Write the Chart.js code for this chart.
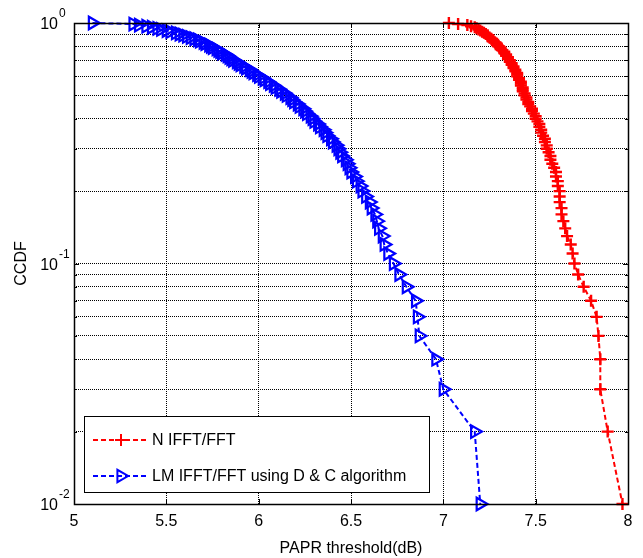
<!DOCTYPE html>
<html>
<head>
<meta charset="utf-8">
<script src="https://cdn.jsdelivr.net/npm/chart.js@4/dist/chart.umd.min.js"></script>
<style>
  html, body { margin: 0; padding: 0; background: #fff; }
  #wrap { width: 643px; height: 558px; }
</style>
</head>
<body>
<div id="wrap"><canvas id="myChart" width="643" height="558"></canvas></div>
<script>
// CCDF levels (both curves are sampled at the same probabilities)
let ccdf = [1.00, 0.99, 0.98, 0.97, 0.96, 0.95, 0.94, 0.93, 0.92, 0.91,
            0.90, 0.89, 0.88, 0.87, 0.86, 0.85, 0.84, 0.83, 0.82, 0.81,
            0.80, 0.79, 0.78, 0.77, 0.76, 0.75, 0.74, 0.73, 0.72, 0.71,
            0.70, 0.69, 0.68, 0.67, 0.66, 0.65, 0.64, 0.63, 0.62, 0.61,
            0.60, 0.59, 0.58, 0.57, 0.56, 0.55, 0.54, 0.53, 0.52, 0.51,
            0.50, 0.49, 0.48, 0.47, 0.46, 0.45, 0.44, 0.43, 0.42, 0.41,
            0.40, 0.39, 0.38, 0.37, 0.36, 0.35, 0.34, 0.33, 0.32, 0.31,
            0.30, 0.29, 0.28, 0.27, 0.26, 0.25, 0.24, 0.23, 0.22, 0.21,
            0.20, 0.19, 0.18, 0.17, 0.16, 0.15, 0.14, 0.13, 0.12, 0.11,
            0.10, 0.09, 0.08, 0.07, 0.06, 0.05, 0.04, 0.03, 0.02, 0.01];

// PAPR threshold (dB) for N IFFT/FFT
let paprN = [7.03, 7.08, 7.13, 7.15, 7.17, 7.18, 7.19, 7.20, 7.21, 7.22,
             7.23, 7.24, 7.24, 7.25, 7.26, 7.27, 7.27, 7.28, 7.29, 7.29,
             7.30, 7.31, 7.31, 7.32, 7.33, 7.33, 7.34, 7.34, 7.35, 7.35,
             7.36, 7.36, 7.37, 7.37, 7.38, 7.38, 7.39, 7.39, 7.40, 7.40,
             7.40, 7.41, 7.41, 7.42, 7.42, 7.42, 7.43, 7.43, 7.43, 7.44,
             7.44, 7.45, 7.45, 7.46, 7.46, 7.47, 7.48, 7.48, 7.49, 7.50,
             7.50, 7.51, 7.52, 7.52, 7.53, 7.53, 7.54, 7.55, 7.55, 7.56,
             7.56, 7.57, 7.58, 7.58, 7.59, 7.60, 7.61, 7.61, 7.62, 7.62,
             7.63, 7.63, 7.63, 7.64, 7.64, 7.65, 7.66, 7.67, 7.69, 7.70,
             7.71, 7.73, 7.76, 7.80, 7.83, 7.84, 7.85, 7.85, 7.89, 7.97];

// PAPR threshold (dB) for LM IFFT/FFT using D & C
let paprLM = [5.10, 5.32, 5.35, 5.39, 5.42, 5.45, 5.47, 5.50, 5.52, 5.55,
              5.57, 5.59, 5.61, 5.63, 5.65, 5.67, 5.68, 5.70, 5.71, 5.73,
              5.74, 5.75, 5.77, 5.78, 5.79, 5.80, 5.82, 5.83, 5.84, 5.85,
              5.86, 5.88, 5.89, 5.90, 5.92, 5.93, 5.95, 5.96, 5.97, 5.99,
              6.00, 6.02, 6.03, 6.05, 6.06, 6.08, 6.09, 6.11, 6.12, 6.14,
              6.15, 6.17, 6.18, 6.19, 6.21, 6.22, 6.24, 6.25, 6.26, 6.28,
              6.29, 6.30, 6.32, 6.33, 6.35, 6.36, 6.37, 6.39, 6.40, 6.42,
              6.43, 6.44, 6.45, 6.47, 6.48, 6.49, 6.50, 6.52, 6.53, 6.55,
              6.56, 6.58, 6.60, 6.61, 6.63, 6.64, 6.65, 6.67, 6.68, 6.70,
              6.73, 6.76, 6.80, 6.85, 6.86, 6.87, 6.96, 7.00, 7.17, 7.20];

let seriesNames = ['N IFFT/FFT', 'LM IFFT/FFT using D & C algorithm'];
let xTickValues = [5, 5.5, 6, 6.5, 7, 7.5, 8];
let xTickLabels = ['5', '5.5', '6', '6.5', '7', '7.5', '8'];
let yMajor = [1, 0.1, 0.01];
let yMajorExp = ['0', '-1', '-2'];
let yDecades = [0.01, 0.1];

const FONT = '"Liberation Sans", Arial, sans-serif';

function toPoints(xs, ys) {
    let pts = [];
    for (let i = 0; i < xs.length; i++) pts.push({ x: xs[i], y: ys[i] });
    return pts;
}

let yTicks = [];
yDecades.forEach(function (d) {
    for (let m = 1; m <= 9; m++) yTicks.push(+(d * m).toPrecision(3));
});
yTicks.push(1);

let redStyle = {
    borderColor: '#ff0000', backgroundColor: 'rgba(0,0,0,0)',
    pointStyle: 'cross', rotation: 0, radius: 6, borderWidth: 2.4
};
let blueStyle = {
    borderColor: '#0000ff', backgroundColor: 'rgba(0,0,0,0)',
    pointStyle: 'triangle', rotation: 90, radius: 7.2, borderWidth: 2.2
};

// matlab-ish frame, ticks, y labels and legend
const matlabBits = {
    id: 'matlabBits',
    afterDraw(chart) {
        const ctx = chart.ctx;
        const a = chart.chartArea;
        const xs = chart.scales.x, ys = chart.scales.y;
        ctx.save();

        // inward ticks
        ctx.strokeStyle = '#000';
        ctx.lineWidth = 1;
        ctx.setLineDash([]);
        ctx.beginPath();
        xTickValues.forEach(function (v) {
            let px = Math.round(xs.getPixelForValue(v)) + 0.5;
            ctx.moveTo(px, a.bottom); ctx.lineTo(px, a.bottom - 5);
            ctx.moveTo(px, a.top); ctx.lineTo(px, a.top + 5);
        });
        yTicks.forEach(function (v) {
            let py = Math.round(ys.getPixelForValue(v)) + 0.5;
            let len = yMajor.indexOf(v) >= 0 ? 5 : 3;
            ctx.moveTo(a.left, py); ctx.lineTo(a.left + len, py);
            ctx.moveTo(a.right, py); ctx.lineTo(a.right - len, py);
        });
        ctx.stroke();

        // box
        ctx.lineWidth = 1.5;
        ctx.strokeRect(Math.round(a.left) + 0.5, Math.round(a.top) + 0.5,
                       Math.round(a.right - a.left), Math.round(a.bottom - a.top));

        // y tick labels 10^n
        ctx.fillStyle = '#000';
        yMajor.forEach(function (v, i) {
            let py = ys.getPixelForValue(v);
            ctx.font = '16px ' + FONT;
            ctx.textAlign = 'right';
            ctx.textBaseline = 'middle';
            ctx.fillText('10', 58, py + 2);
            ctx.font = '12px ' + FONT;
            ctx.textAlign = 'left';
            ctx.fillText(yMajorExp[i], 59, py - 9);
        });

        // legend
        const lx = 84, ly = 416, lw = 345, lh = 76;
        ctx.fillStyle = '#fff';
        ctx.fillRect(lx, ly, lw, lh);
        ctx.strokeStyle = '#000';
        ctx.lineWidth = 1;
        ctx.strokeRect(lx + 0.5, ly + 0.5, lw, lh);
        [redStyle, blueStyle].forEach(function (st, i) {
            let ry = ly + 24 + i * 36;
            ctx.strokeStyle = st.borderColor;
            ctx.lineWidth = 2;
            ctx.setLineDash([5, 3]);
            ctx.beginPath();
            ctx.moveTo(lx + 9, ry); ctx.lineTo(lx + 64, ry);
            ctx.stroke();
            ctx.setLineDash([]);
            ctx.fillStyle = st.backgroundColor;
            Chart.helpers.drawPoint(ctx, {
                pointStyle: st.pointStyle, rotation: st.rotation,
                radius: st.radius, borderWidth: st.borderWidth
            }, lx + 37, ry);
            ctx.fillStyle = '#000';
            ctx.font = '16px ' + FONT;
            ctx.textAlign = 'left';
            ctx.textBaseline = 'middle';
            ctx.fillText(seriesNames[i], lx + 68, ry + 1);
        });
        ctx.restore();
    }
};

let ctx1 = document.getElementById('myChart').getContext('2d');

let chart1 = new Chart(ctx1, {
    type: 'line',
    data: {
        datasets: [
            {
                label: seriesNames[0],
                data: toPoints(paprN, ccdf),
                borderColor: redStyle.borderColor,
                backgroundColor: redStyle.backgroundColor,
                borderWidth: 2,
                borderDash: [5, 3],
                pointStyle: redStyle.pointStyle,
                pointRadius: redStyle.radius,
                pointBorderWidth: redStyle.borderWidth,
                pointBorderColor: redStyle.borderColor,
                pointBackgroundColor: redStyle.backgroundColor,
                fill: false,
                tension: 0,
                clip: false
            },
            {
                label: seriesNames[1],
                data: toPoints(paprLM, ccdf),
                borderColor: blueStyle.borderColor,
                backgroundColor: blueStyle.backgroundColor,
                borderWidth: 2,
                borderDash: [5, 3],
                pointStyle: blueStyle.pointStyle,
                pointRotation: blueStyle.rotation,
                pointRadius: blueStyle.radius,
                pointBorderWidth: blueStyle.borderWidth,
                pointBorderColor: blueStyle.borderColor,
                pointBackgroundColor: blueStyle.backgroundColor,
                fill: false,
                tension: 0,
                clip: false
            }
        ]
    },
    options: {
        responsive: false,
        animation: false,
        layout: { padding: { left: 0, top: 23, right: 15, bottom: 0 } },
        plugins: {
            legend: { display: false },
            tooltip: { enabled: false },
            title: { display: false }
        },
        scales: {
            x: {
                type: 'linear',
                min: 5,
                max: 8,
                afterBuildTicks: function (scale) {
                    scale.ticks = xTickValues.map(function (v) { return { value: v }; });
                },
                afterFit: function (scale) { scale.height = 54; },
                ticks: {
                    color: '#000',
                    font: { family: FONT, size: 16 },
                    padding: 8,
                    maxRotation: 0,
                    callback: function (value) {
                        let i = xTickValues.indexOf(value);
                        return i >= 0 ? xTickLabels[i] : '';
                    }
                },
                grid: { color: '#000', lineWidth: 1, tickLength: 0, drawTicks: false },
                border: { display: false, dash: [1, 1] },
                title: {
                    display: true,
                    text: 'PAPR threshold(dB)',
                    color: '#000',
                    font: { family: FONT, size: 16 },
                    padding: { top: 1, bottom: 0 }
                }
            },
            y: {
                type: 'logarithmic',
                min: 0.01,
                max: 1,
                afterBuildTicks: function (scale) {
                    scale.ticks = yTicks.map(function (v) { return { value: v }; });
                },
                afterFit: function (scale) { scale.width = 74; },
                ticks: { display: false },
                grid: { color: '#000', lineWidth: 1, tickLength: 0, drawTicks: false },
                border: { display: false, dash: [1, 1] },
                title: {
                    display: true,
                    text: 'CCDF',
                    color: '#000',
                    font: { family: FONT, size: 16 },
                    padding: { top: 12, bottom: 0 }
                }
            }
        }
    },
    plugins: [matlabBits]
});
</script>
</body>
</html>
